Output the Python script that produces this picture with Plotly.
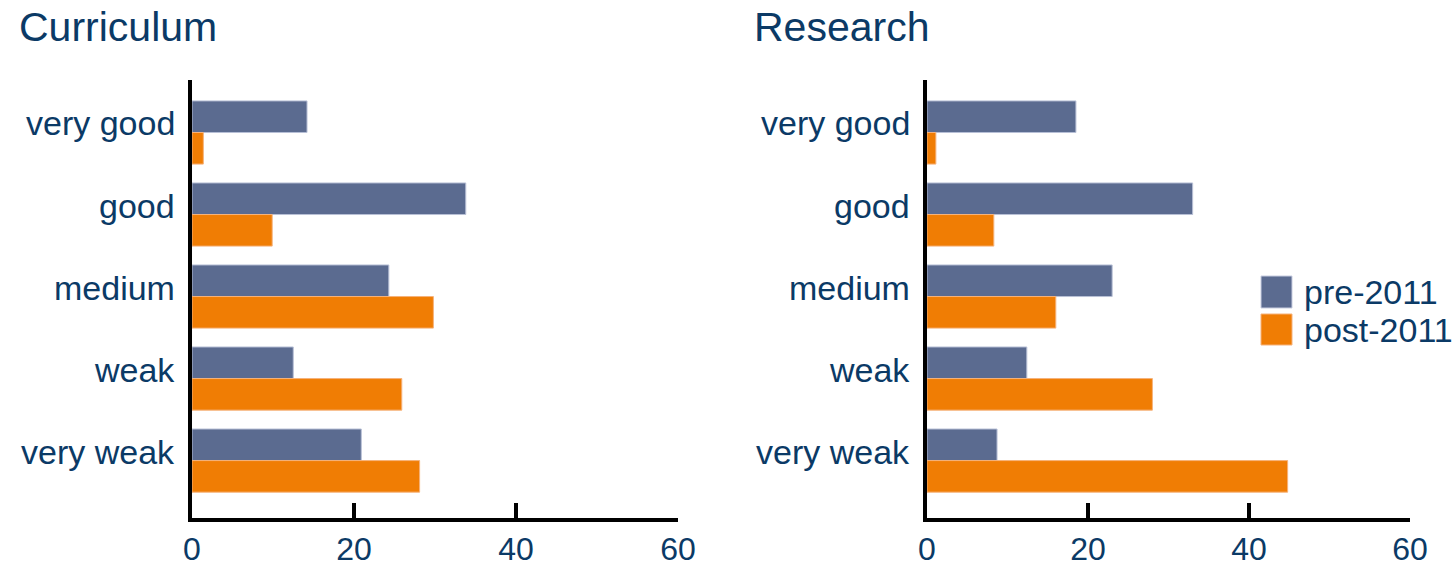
import plotly.graph_objects as go

categories = ["very good", "good", "medium", "weak", "very weak"]
curriculum_pre = [14.2, 33.8, 24.3, 12.5, 20.9]
curriculum_post = [1.4, 9.9, 29.8, 25.9, 28.1]
research_pre = [18.5, 33.0, 23.0, 12.4, 8.7]
research_post = [1.1, 8.3, 16.0, 28.0, 44.8]
x_ticks = [0, 20, 40, 60]
panel_titles = ["Curriculum", "Research"]
series_names = ["pre-2011", "post-2011"]

W, H = 1453, 568
PRE = "#5b6b90"
POST = "#f07d04"
NAVY = "#0b3a66"
FONT = "Liberation Sans, Arial, Helvetica, sans-serif"
TXT = 34


def px(sx):
    return sx / W


def py(sy):
    return 1 - sy / H


fig = go.Figure()
panels = [(curriculum_pre, curriculum_post, "x", "y"), (research_pre, research_post, "x2", "y2")]
for pre, post, xa, ya in panels:
    fig.add_trace(go.Bar(y=categories, x=pre, orientation="h", name=series_names[0],
                         marker=dict(color=PRE, line=dict(color="#b8c0d6", width=1)),
                         xaxis=xa, yaxis=ya, showlegend=False))
    fig.add_trace(go.Bar(y=categories, x=post, orientation="h", name=series_names[1],
                         marker=dict(color=POST, line=dict(color="#f6b27a", width=1)),
                         xaxis=xa, yaxis=ya, showlegend=False))

xdom1 = [px(192), px(678)]
xdom2 = [px(927), px(1410)]
ydom = [py(518), py(80)]

xcommon = dict(range=[0, 60], tickvals=x_ticks, ticks="inside", ticklen=15, tickwidth=4,
               tickcolor="black", showline=True, linecolor="black", linewidth=4,
               showgrid=False, zeroline=False, fixedrange=True, automargin=False,
               tickfont=dict(family=FONT, size=32, color=NAVY), ticklabelstandoff=0)
ycommon = dict(categoryorder="array", categoryarray=categories, range=[4.70, -0.64],
               showline=True, linecolor="black", linewidth=4, ticks="", showgrid=False,
               zeroline=False, automargin=False, showticklabels=False, fixedrange=True)

fig.update_layout(
    width=W, height=H, margin=dict(l=0, r=0, t=0, b=0, autoexpand=False),
    paper_bgcolor="white", plot_bgcolor="white",
    barmode="group", bargap=0.23, bargroupgap=0.0,
    xaxis=dict(domain=xdom1, anchor="y", **xcommon),
    yaxis=dict(domain=ydom, anchor="x", **ycommon),
    xaxis2=dict(domain=xdom2, anchor="y2", **xcommon),
    yaxis2=dict(domain=ydom, anchor="x2", **ycommon),
    showlegend=False,
)

# category labels (sit slightly above the group centre, as in the original)
for xa, ya in [("x", "y"), ("x2", "y2")]:
    for cat in categories:
        fig.add_annotation(text=cat, x=0, xref=f"{xa} domain", y=cat, yref=ya,
                           xanchor="right", yanchor="middle", xshift=-15, yshift=9,
                           showarrow=False, font=dict(family=FONT, size=TXT, color=NAVY))

# panel titles
for title, sx in zip(panel_titles, [17, 752]):
    fig.add_annotation(text=title, x=px(sx), y=py(27), xref="paper", yref="paper",
                       xanchor="left", yanchor="middle", showarrow=False,
                       font=dict(family=FONT, size=41, color=NAVY))

# legend drawn as shapes + text
for name, color, y0, y1 in [(series_names[0], PRE, 276, 308), (series_names[1], POST, 314, 345)]:
    fig.add_shape(type="rect", xref="paper", yref="paper",
                  x0=px(1261), x1=px(1292), y0=py(y1), y1=py(y0),
                  fillcolor=color, line=dict(color="#c8cde0" if color == PRE else "#f6b27a", width=1))
    fig.add_annotation(text=name, x=px(1302), y=py((y0 + y1) / 2), xref="paper", yref="paper",
                       xanchor="left", yanchor="middle", showarrow=False,
                       font=dict(family=FONT, size=TXT, color=NAVY))

fig.write_html("out.html", config={"displayModeBar": False},
               post_script="document.body.style.margin='0';document.body.style.overflow='hidden';")
